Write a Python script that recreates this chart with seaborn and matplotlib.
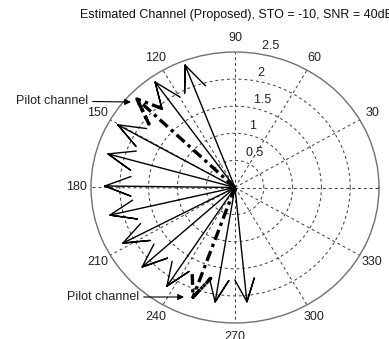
import numpy as np
import pandas as pd
import matplotlib
matplotlib.use("Agg")
import matplotlib.pyplot as plt
import seaborn as sns

# ---- data -------------------------------------------------------------------
magnitudes = [2.42, 2.39, 2.36, 2.34, 2.29, 2.26, 2.23, 2.20, 2.18, 2.17, 2.15, 2.14, 2.12,
              0.07, 0.06, 0.07, 0.06]
angles_deg = [111.0, 125.5, 136.2, 150.4, 164.3, 179.3, 193.2, 207.8, 222.3, 237.0, 250.2, 260.7, 275.6,
              160.0, 200.0, 240.0, 290.0]
kinds = ["data", "data", "pilot", "data", "data", "data", "data", "data", "data", "data", "pilot", "data", "data",
         "data", "data", "data", "data"]
theta_labels = ["30", "60", "90", "120", "150", "180", "210", "240", "270", "300", "330"]
theta_ticks = [30, 60, 90, 120, 150, 180, 210, 240, 270, 300, 330]
grid_angles = [0, 30, 60, 90, 120, 150, 180, 210, 240, 270, 300, 330]
r_ticks = [0.5, 1.0, 1.5, 2.0, 2.5]
r_labels = ["0.5", "1", "1.5", "2", "2.5"]
title = "Estimated Channel (Proposed), STO = -10, SNR = 40dB"
pilot_text = "Pilot channel"

# ---- build MATLAB-compass style arrow paths ----------------------------------
shape = np.array([0, 1, 0.8 + 0.08j, 1, 0.8 - 0.08j])
rows = []
for i, (m, a, k) in enumerate(zip(magnitudes, angles_deg, kinds)):
    z = m * np.exp(1j * np.deg2rad(a))
    pts = z * shape
    for j, p in enumerate(pts):
        rows.append(dict(arrow=i, step=j, theta=np.angle(p), r=abs(p), kind=k))
df = pd.DataFrame(rows)

sns.set_theme(style="white")
plt.rcParams["font.family"] = ["Liberation Sans", "DejaVu Sans"]

W, H = 389, 339
fig = plt.figure(figsize=(W / 100, H / 100), dpi=100)
cx, cy, rx, ry = 235.0, 187.5, 144.0, 135.5
ax = fig.add_axes([(cx - rx) / W, (H - cy - ry) / H, 2 * rx / W, 2 * ry / H], projection="polar")
ax.set_aspect("auto")
ax.set_facecolor("white")

sns.lineplot(data=df, x="theta", y="r", units="arrow", estimator=None, sort=False,
             style="kind", dashes={"data": "", "pilot": (3.2, 1.3, 1, 1.3)},
             hue="kind", palette={"data": "black", "pilot": "black"},
             size="kind", sizes={"data": 1.0, "pilot": 2.4},
             legend=False, ax=ax)

ax.set_ylim(0, 2.5)
ax.set_yticks(r_ticks[:-1])
ax.set_yticklabels([])
ax.set_xticks(np.deg2rad(grid_angles))
ax.set_xticklabels([])
ax.grid(True, linestyle=(0, (3, 3)), color="#3a3a3a", linewidth=0.7)
ax.spines["polar"].set_color("#707070")
ax.spines["polar"].set_linewidth(1.0)
ax.set_xlabel("")
ax.set_ylabel("")

for t, lab in zip(theta_ticks, theta_labels):
    ax.text(np.deg2rad(t), 2.5 * 1.1, lab, ha="center", va="center", fontsize=9, color="#222222")

for rv, lab in zip(r_ticks, r_labels):
    ax.text(np.deg2rad(82), rv + 0.025, "  " + lab, ha="left", va="bottom", fontsize=9, color="#222222")

fig.text(cx / W + 0.004, (H - 15) / H, title, ha="center", va="center", fontsize=9, color="#111111")

arrowprops = dict(arrowstyle="-|>", color="black", lw=0.8, mutation_scale=9, shrinkA=1, shrinkB=0)
ax.annotate(pilot_text, xy=(131, H - 102), xycoords="figure pixels",
            xytext=(88, H - 101), textcoords="figure pixels", ha="right", va="center",
            fontsize=9, color="#222222", arrowprops=arrowprops)
ax.annotate(pilot_text, xy=(184, H - 297), xycoords="figure pixels",
            xytext=(139, H - 297), textcoords="figure pixels", ha="right", va="center",
            fontsize=9, color="#222222", arrowprops=arrowprops)

fig.savefig("out.png", dpi=100, facecolor="white")
